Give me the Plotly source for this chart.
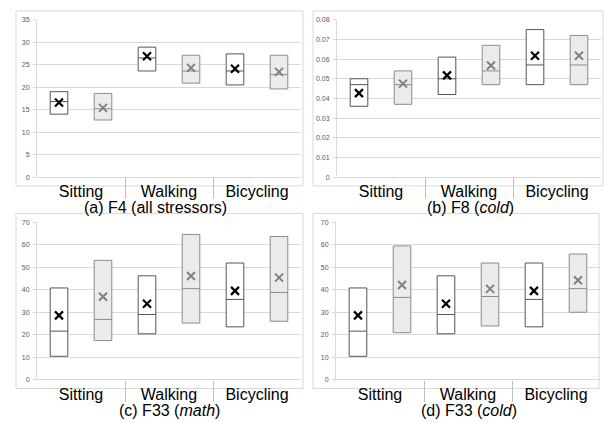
import plotly.graph_objects as go

W, H = 605, 423

categories = ["Sitting", "Walking", "Bicycling"]

# Per-panel statistics: (q1, median, q3, mean) for the white and the grey series
f4_white_q1 = [14.0, 23.6, 20.5]
f4_white_med = [16.8, 26.5, 23.6]
f4_white_q3 = [19.0, 28.9, 27.4]
f4_white_mean = [16.6, 26.9, 24.1]
f4_grey_q1 = [12.7, 20.9, 19.6]
f4_grey_med = [15.2, 23.6, 22.8]
f4_grey_q3 = [18.6, 27.1, 27.1]
f4_grey_mean = [15.4, 24.3, 23.4]

f8_white_q1 = [0.036, 0.042, 0.047]
f8_white_med = [0.047, 0.050, 0.057]
f8_white_q3 = [0.050, 0.061, 0.075]
f8_white_mean = [0.0427, 0.0517, 0.0617]
f8_grey_q1 = [0.037, 0.047, 0.047]
f8_grey_med = [0.047, 0.054, 0.057]
f8_grey_q3 = [0.054, 0.067, 0.072]
f8_grey_mean = [0.0475, 0.0567, 0.0617]

f33m_white_q1 = [10.4, 20.4, 23.5]
f33m_white_med = [21.6, 29.0, 35.7]
f33m_white_q3 = [40.8, 46.2, 51.9]
f33m_white_mean = [28.6, 33.8, 39.5]
f33m_grey_q1 = [17.4, 25.2, 26.0]
f33m_grey_med = [26.8, 40.5, 38.8]
f33m_grey_q3 = [53.1, 64.6, 63.7]
f33m_grey_mean = [36.9, 46.1, 45.4]

f33c_white_q1 = [10.4, 20.4, 23.5]
f33c_white_med = [21.6, 29.0, 35.7]
f33c_white_q3 = [40.8, 46.2, 51.9]
f33c_white_mean = [28.6, 33.8, 39.5]
f33c_grey_q1 = [20.9, 23.9, 30.0]
f33c_grey_med = [36.6, 37.0, 40.5]
f33c_grey_q3 = [59.5, 51.9, 55.9]
f33c_grey_mean = [42.1, 40.4, 44.2]

panel_titles = ["(a) F4 (all stressors)", "(b) F8 (<i>cold</i>)",
                "(c) F33 (<i>math</i>)", "(d) F33 (<i>cold</i>)"]
y_ranges = [(0, 35, 5), (0, 0.08, 0.01), (0, 70, 10), (0, 70, 10)]

panels = [
    (f4_white_q1, f4_white_med, f4_white_q3, f4_white_mean,
     f4_grey_q1, f4_grey_med, f4_grey_q3, f4_grey_mean),
    (f8_white_q1, f8_white_med, f8_white_q3, f8_white_mean,
     f8_grey_q1, f8_grey_med, f8_grey_q3, f8_grey_mean),
    (f33m_white_q1, f33m_white_med, f33m_white_q3, f33m_white_mean,
     f33m_grey_q1, f33m_grey_med, f33m_grey_q3, f33m_grey_mean),
    (f33c_white_q1, f33c_white_med, f33c_white_q3, f33c_white_mean,
     f33c_grey_q1, f33c_grey_med, f33c_grey_q3, f33c_grey_mean),
]

# pixel geometry of each plot area: (left, right, top, bottom)
areas = [(37, 301, 16, 176), (337, 601, 16, 176),
         (37, 301, 222, 382), (336, 600, 222, 382)]
frames = [(16, 303, 7, 185), (313, 603, 7, 185),
          (16, 303, 213, 391), (313, 599, 213, 391)]
title_pos = [(155, 207), (470, 207), (169, 413), (469, 413)]

GRID = "#d9d9d9"
fig = go.Figure()

white_pos = [0.25, 1.25, 2.25]
grey_pos = [0.75, 1.75, 2.75]

for i, (wq1, wmed, wq3, wmean, gq1, gmed, gq3, gmean) in enumerate(panels):
    sfx = "" if i == 0 else str(i + 1)
    xa, ya = "x" + sfx, "y" + sfx
    fig.add_trace(go.Box(
        x=white_pos, q1=wq1, median=wmed, q3=wq3,
        lowerfence=wq1, upperfence=wq3, width=0.2, whiskerwidth=0,
        fillcolor="white", line=dict(color="#555555", width=1),
        boxpoints=False, hoverinfo="skip", showlegend=False,
        xaxis=xa, yaxis=ya))
    fig.add_trace(go.Box(
        x=grey_pos, q1=gq1, median=gmed, q3=gq3,
        lowerfence=gq1, upperfence=gq3, width=0.2, whiskerwidth=0,
        fillcolor="#ebebeb", line=dict(color="#8c8c8c", width=1),
        boxpoints=False, hoverinfo="skip", showlegend=False,
        xaxis=xa, yaxis=ya))
    fig.add_trace(go.Scatter(
        x=white_pos, y=wmean, mode="markers",
        marker=dict(symbol="x-thin", size=8,
                    line=dict(color="black", width=2.2)),
        showlegend=False, xaxis=xa, yaxis=ya))
    fig.add_trace(go.Scatter(
        x=grey_pos, y=gmean, mode="markers",
        marker=dict(symbol="x-thin", size=8,
                    line=dict(color="#808080", width=2)),
        showlegend=False, xaxis=xa, yaxis=ya))

    l, r, t, b = areas[i]
    y0, y1, dt = y_ranges[i]
    fig.layout["xaxis" + sfx] = dict(
        domain=[l / W, r / W], range=[0, 3], anchor=ya,
        tickmode="array", tickvals=[0.5, 1.5, 2.5], ticktext=categories,
        ticks="", showgrid=False, zeroline=False, showline=False,
        tickfont=dict(family="Liberation Sans, Arial", size=16, color="black"),
        ticklabelstandoff=3,
        minor=dict(tickvals=[1, 2], ticks="outside", ticklen=21,
                   tickcolor="#bfbfbf", tickwidth=1, showgrid=False),
        fixedrange=True)
    fig.layout["yaxis" + sfx] = dict(
        domain=[1 - b / H, 1 - t / H], range=[y0, y1], dtick=dt, tick0=0,
        anchor=xa, showgrid=True, gridcolor=GRID, gridwidth=1,
        zeroline=True, zerolinecolor=GRID, zerolinewidth=1,
        showline=True, linecolor=GRID, linewidth=1,
        ticks="outside", ticklen=3, tickcolor=GRID,
        ticklabelstandoff=2,
        tickfont=dict(family="Liberation Sans, Arial", size=7, color="#595959"),
        fixedrange=True)

    fl, fr, ft, fb = frames[i]
    fig.add_shape(type="rect", xref="paper", yref="paper",
                  x0=fl / W, x1=fr / W, y0=1 - fb / H, y1=1 - ft / H,
                  line=dict(color=GRID, width=1), layer="below")
    tx, ty = title_pos[i]
    fig.add_annotation(text=panel_titles[i], xref="paper", yref="paper",
                       x=tx / W, y=1 - ty / H, xanchor="center", yanchor="middle",
                       showarrow=False,
                       font=dict(family="Liberation Sans, Arial", size=16, color="black"))

fig.update_layout(
    width=W, height=H, margin=dict(l=0, r=0, t=0, b=0),
    paper_bgcolor="white", plot_bgcolor="white",
    boxmode="overlay", showlegend=False)

fig.write_html("out.html")
